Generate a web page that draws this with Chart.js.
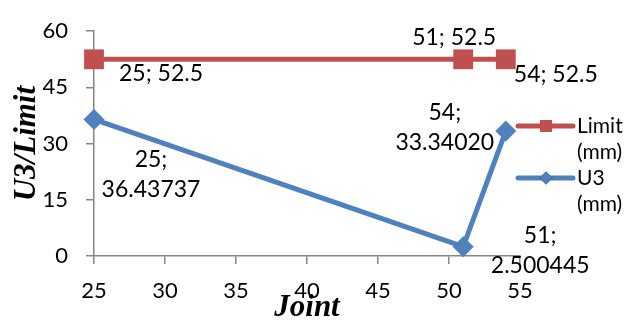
<!DOCTYPE html>
<html>
<head>
<meta charset="utf-8">
<script src="https://cdn.jsdelivr.net/npm/chart.js@4.4.1/dist/chart.umd.min.js"></script>
<style>
  html, body { margin: 0; padding: 0; background: #fff; }
</style>
</head>
<body>
<canvas id="grafico" width="639" height="325"></canvas>
<script>
// dados
const joints = [25, 51, 54];
const limitValues = [52.5, 52.5, 52.5];
const u3Texts = ["36.43737", "2.500445", "33.34020"];
const u3Values = u3Texts.map(Number);
const xTicks = [25, 30, 35, 40, 45, 50, 55];
const yTicks = [0, 15, 30, 45, 60];
const seriesNames = [["Limit", "(mm)"], ["U3", "(mm)"]];

const RED = "#C0504D";
const BLUE = "#4F81BD";
const AXIS = "#868686";
const FONT = "Lato, 'Open Sans', sans-serif";
const SERIF = "'Liberation Serif', 'DejaVu Serif', serif";

// deslocamento dos rotulos em relacao ao ponto
const labelOffsets = [
  [[67, 14], [-9, -22], [50, 15]],
  [[57, 40], [77, -11], [-61, -19]],
];

// ROTULOS DE DADOS
const rotulos = {
  id: "rotulos",
  afterDatasetsDraw(chart) {
    const ctx = chart.ctx;
    ctx.save();
    ctx.font = "23px " + FONT;
    ctx.fillStyle = "#000";
    ctx.textAlign = "center";
    ctx.textBaseline = "middle";
    chart.data.datasets.forEach((ds, i) => {
      chart.getDatasetMeta(i).data.forEach((pt, j) => {
        const [dx, dy] = labelOffsets[i][j];
        const lines = ds.labelLines(j);
        lines.forEach((t, k) => ctx.fillText(t, pt.x + dx, pt.y + dy + k * 30));
      });
    });
    ctx.restore();
  },
};

// LEGENDA A DIREITA
const legenda = {
  id: "legenda",
  afterDraw(chart) {
    const ctx = chart.ctx;
    const x0 = chart.chartArea.right - 2;
    ctx.save();
    chart.data.datasets.forEach((ds, i) => {
      const y = 126 + i * 52;
      ctx.strokeStyle = ds.borderColor;
      ctx.lineWidth = 5;
      ctx.lineCap = "round";
      ctx.beginPath();
      ctx.moveTo(x0, y);
      ctx.lineTo(x0 + 55, y);
      ctx.stroke();
      Chart.helpers.drawPoint(ctx, {
        pointStyle: ds.pointStyle,
        radius: i === 0 ? 8.5 : 6.5,
        borderWidth: 0,
      }, x0 + 28, y);
      ctx.fillStyle = ds.borderColor;
      ctx.fill();
      ctx.fillStyle = "#000";
      ctx.font = "21px " + FONT;
      ctx.textAlign = "left";
      ctx.textBaseline = "middle";
      seriesNames[i].forEach((t, k) => ctx.fillText(t, x0 + 59, y + k * 26));
    });
    ctx.restore();
  },
};

const ctx = document.getElementById("grafico").getContext("2d");
new Chart(ctx, {
  type: "line",
  data: {
    datasets: [
      {
        label: seriesNames[0].join(" "),
        data: joints.map((x, i) => ({ x: x, y: limitValues[i] })),
        labelLines: (j) => [joints[j] + "; " + limitValues[j]],
        borderColor: RED,
        backgroundColor: RED,
        borderWidth: 5,
        pointStyle: "rect",
        pointRadius: 14,
        pointBorderWidth: 0,
        clip: false,
      },
      {
        label: seriesNames[1].join(" "),
        data: joints.map((x, i) => ({ x: x, y: u3Values[i] })),
        labelLines: (j) => [joints[j] + ";", u3Texts[j]],
        borderColor: BLUE,
        backgroundColor: BLUE,
        borderWidth: 5,
        pointStyle: "rectRot",
        pointRadius: 10.5,
        pointBorderWidth: 0,
        clip: false,
      },
    ],
  },
  options: {
    responsive: false,
    animation: false,
    layout: { padding: { top: 19, right: 119, bottom: 0, left: 0 } },
    elements: { line: { tension: 0, borderJoinStyle: "round" } },
    plugins: {
      legend: { display: false },
      tooltip: { enabled: false },
    },
    scales: {
      x: {
        type: "linear",
        min: 25,
        max: 55,
        afterFit: (s) => { s.height = 69; },
        afterBuildTicks: (s) => { s.ticks = xTicks.map((v) => ({ value: v })); },
        grid: { drawOnChartArea: false, color: AXIS, tickLength: 8, lineWidth: 1.5 },
        border: { color: AXIS, width: 1.5 },
        ticks: { color: "#000", font: { family: FONT, size: 22 }, padding: 14 },
        title: {
          display: true,
          text: "Joint",
          color: "#000",
          font: { family: SERIF, size: 31, weight: "bold", style: "italic" },
          padding: { top: 0, bottom: -2 },
        },
      },
      y: {
        min: 0,
        max: 60,
        afterFit: (s) => { s.width = 94; },
        afterBuildTicks: (s) => { s.ticks = yTicks.map((v) => ({ value: v })); },
        grid: { drawOnChartArea: false, color: AXIS, tickLength: 8, lineWidth: 1.5 },
        border: { color: AXIS, width: 1.5 },
        ticks: { color: "#000", font: { family: FONT, size: 22 }, padding: 18 },
        title: {
          display: true,
          text: "U3/Limit",
          color: "#000",
          font: { family: SERIF, size: 31, weight: "bold", style: "italic" },
          padding: { top: 8, bottom: 0 },
        },
      },
    },
  },
  plugins: [rotulos, legenda],
});
</script>
</body>
</html>
